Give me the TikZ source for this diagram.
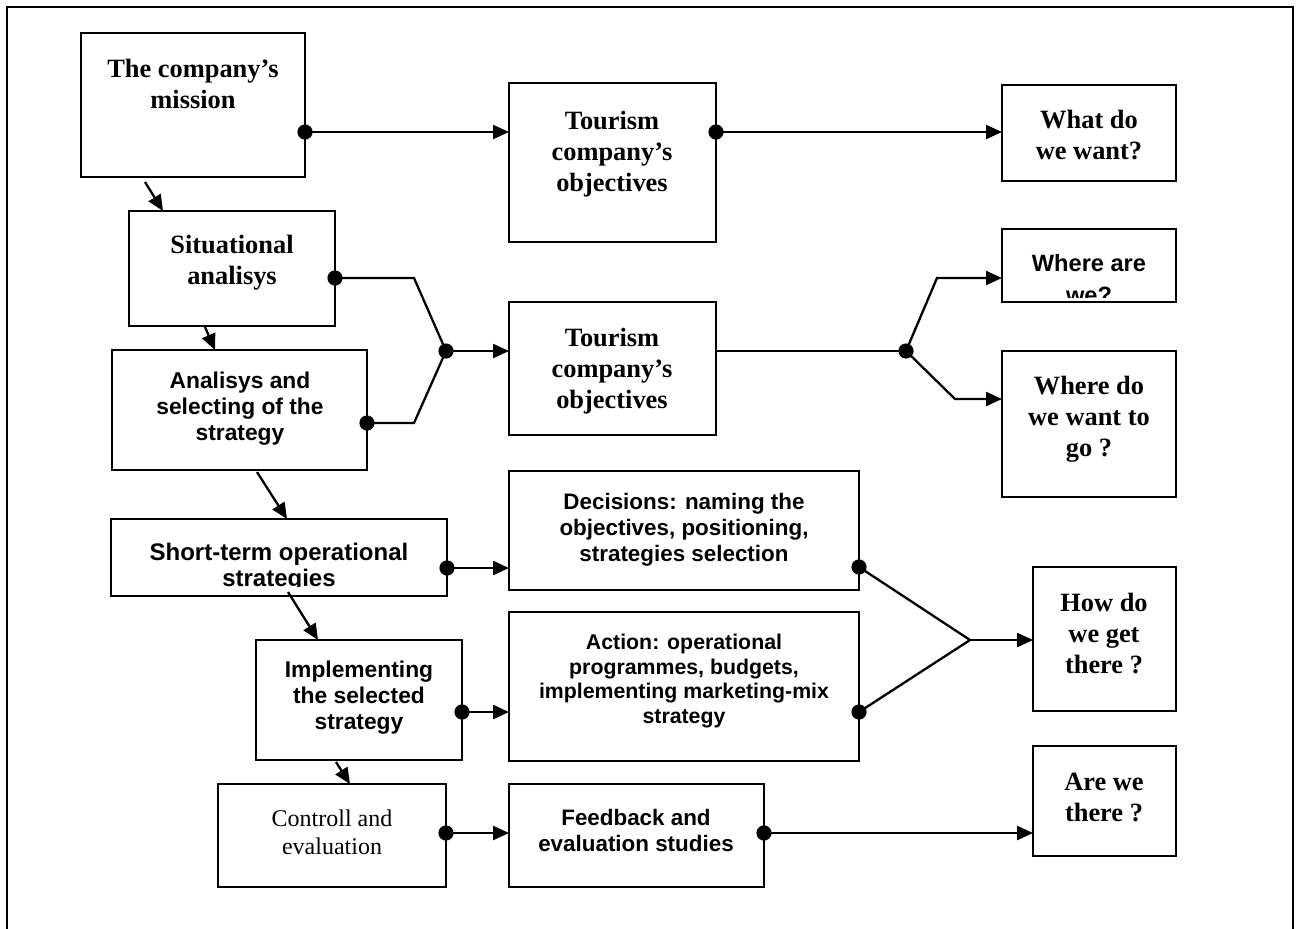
\documentclass[tikz,border=0pt]{standalone}
\usepackage{fontspec}
\setmainfont{Liberation Serif}
\setsansfont{Liberation Sans}
\usetikzlibrary{arrows.meta,calc}
\newcommand\mkbox[5]{\node[box, minimum width={(#4-#2)*0.5pt}, minimum height={(#5-#3)*0.5pt}] (#1) at ({(#2+#4)/2},{(#3+#5)/2}) {};}
\begin{document}
\begin{tikzpicture}[x=0.5pt,y=-0.5pt,
 box/.style={draw,line width=1pt,inner sep=0pt,outer sep=0pt},
 sertxt/.style={align=center,inner sep=0pt,font=\bfseries\fontsize{13.2}{15.5}\selectfont},
 santxt/.style={align=center,inner sep=0pt,font=\sffamily\bfseries\fontsize{11.4}{13}\selectfont},
 con/.style={line width=1.15pt},
 arr/.style={con,-{Triangle[length=8pt,width=7pt]}}]
\useasboundingbox (0,0) rectangle (1300,928);
\draw[line width=1.4pt] (7,940) -- (7,7) -- (1293,7) -- (1293,940);
% boxes
\mkbox{mission}{81}{33}{305}{177}
\mkbox{tour1}{509}{83}{716}{242}
\mkbox{what}{1002}{85}{1176}{181}
\mkbox{situ}{129}{211}{335}{326}
\mkbox{anal}{112}{350}{367}{470}
\mkbox{tour2}{509}{302}{716}{435}
\mkbox{where1}{1002}{229}{1176}{302}
\mkbox{where2}{1002}{351}{1176}{497}
\mkbox{short}{111}{519}{447}{596}
\mkbox{dec}{509}{471}{859}{590}
\mkbox{impl}{256}{640}{462}{760}
\mkbox{act}{509}{612}{859}{761}
\mkbox{how}{1033}{567}{1176}{711}
\mkbox{ctrl}{218}{784}{446}{887}
\mkbox{feed}{509}{784}{764}{887}
\mkbox{are}{1033}{746}{1176}{856}
% texts
\node[sertxt] (missiont) at (193,84) {The company’s\\mission};
\node[sertxt] (tour1t) at (612,154) {Tourism\\company’s\\objectives};
\node[sertxt] (whatt) at (1089,135) {What do\\we want?};
\node[sertxt] (situt) at (232,263) {Situational\\analisys};
\node[santxt] (analt) at (240,409) {Analisys and\\selecting of the\\strategy};
\node[sertxt] (tour2t) at (612,371) {Tourism\\company’s\\objectives};
\begin{scope}
\clip (1002,229) rectangle (1176,297);
\node[santxt,font=\sffamily\bfseries\fontsize{11.8}{16}\selectfont] (where1t) at (1089,279) {Where are\\we?};
\end{scope}
\node[sertxt] (where2t) at (1089,419) {Where do\\we want to\\go ?};
\begin{scope}
\clip (111,519) rectangle (447,586);
\node[santxt,font=\sffamily\bfseries\fontsize{12}{13}\selectfont] (shortt) at (279,567) {Short-term operational\\strategies};
\end{scope}
\node[santxt,font=\sffamily\bfseries\fontsize{11.2}{13}\selectfont] (dect) at (684,530) {Decisions: naming the\\objectives, positioning,\\strategies selection};
\node[santxt] (implt) at (359,698) {Implementing\\the selected\\strategy};
\node[santxt,font=\sffamily\bfseries\fontsize{10.65}{12.35}\selectfont] (actt) at (684,681) {Action: operational\\programmes, budgets,\\implementing marketing-mix\\strategy};
\node[sertxt] (howt) at (1104,634) {How do\\we get\\there ?};
\node[align=center,inner sep=0pt,font=\fontsize{12}{14}\selectfont] (ctrlt) at (332,832) {Controll and\\evaluation};
\node[santxt,font=\sffamily\bfseries\fontsize{11.2}{13}\selectfont] (feedt) at (636,830) {Feedback and\\evaluation studies};
\node[sertxt] (aret) at (1104,797) {Are we\\there ?};
% connectors
\coordinate (d1) at (mission.east |- 0,132);
\coordinate (d2) at (tour1.east |- 0,132);
\draw[arr] (d1) -- (d1 -| tour1.west);
\draw[arr] (d2) -- (d2 -| what.west);
\coordinate (a1s) at (145,182); \coordinate (a1e) at (163,211);
\draw[arr] (a1s) -- (a1e);
\coordinate (a2s) at (205,327); \coordinate (a2e) at (215,350);
\draw[arr] (a2s) -- (a2e);
\coordinate (a3s) at (257,472); \coordinate (a3e) at (287,519);
\draw[arr] (a3s) -- (a3e);
\coordinate (a4s) at (288,592); \coordinate (a4e) at (318,640);
\draw[arr] (a4s) -- (a4e);
\coordinate (a5s) at (336,762); \coordinate (a5e) at (350,784);
\draw[arr] (a5s) -- (a5e);
\coordinate (d3) at (situ.east |- 0,278);
\coordinate (d4) at (anal.east |- 0,423);
\coordinate (j1) at (446,351);
\coordinate (b1) at (414,278);
\coordinate (b2) at (414,423);
\draw[con] (d3) -- (b1) -- (j1);
\draw[con] (d4) -- (b2) -- (j1);
\draw[arr] (j1) -- (j1 -| tour2.west);
\coordinate (j2) at (906,351);
\coordinate (b3) at (937,278);
\coordinate (b4) at (955,399);
\draw[con] (tour2.east |- j2) -- (j2);
\draw[arr] (j2) -- (b3) -- (b3 -| where1.west);
\draw[arr] (j2) -- (b4) -- (b4 -| where2.west);
\coordinate (d5) at (short.east |- 0,568);
\draw[arr] (d5) -- (d5 -| dec.west);
\coordinate (d6) at (impl.east |- 0,712);
\draw[arr] (d6) -- (d6 -| act.west);
\coordinate (d7) at (dec.east |- 0,567);
\coordinate (d8) at (act.east |- 0,712);
\coordinate (j3) at (970,640);
\draw[con] (d7) -- (j3) -- (d8);
\draw[arr] (j3) -- (j3 -| how.west);
\coordinate (d9) at (ctrl.east |- 0,833);
\draw[arr] (d9) -- (d9 -| feed.west);
\coordinate (d10) at (feed.east |- 0,833);
\draw[arr] (d10) -- (d10 -| are.west);
\foreach \p in {d1,d2,d3,d4,j1,j2,d5,d6,d7,d8,d9,d10}
  \fill (\p) circle (3.8pt);
\end{tikzpicture}
\end{document}
